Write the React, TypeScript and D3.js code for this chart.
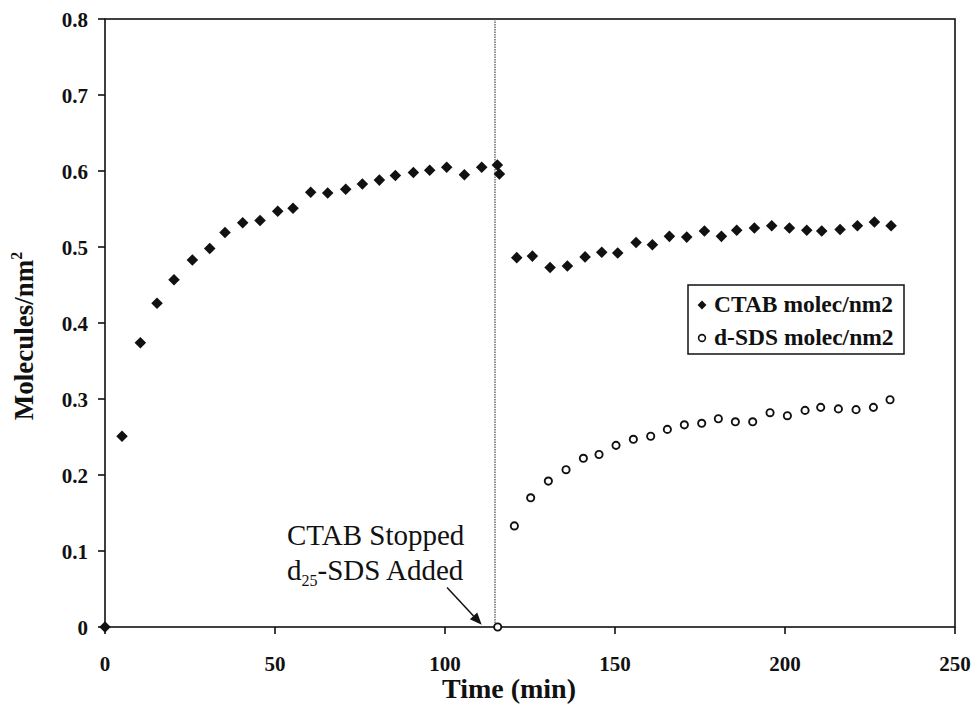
import React from "react";
import * as d3 from "d3";

const ctabTime = [0, 5.0, 10.4, 15.3, 20.3, 25.7, 30.8, 35.3, 40.5, 45.6, 50.8, 55.3, 60.5, 65.5, 70.8, 75.7, 80.7, 85.4, 90.7, 95.5, 100.5, 105.7, 110.8, 115.4, 116.0,
  121.1, 125.7, 130.9, 136.0, 141.2, 146.1, 150.8, 156.2, 161.0, 166.0, 171.1, 176.3, 181.3, 185.8, 191.0, 196.1, 201.3, 206.4, 210.8, 216.2, 221.3, 226.3, 231.2];
const ctabValue = [0, 0.251, 0.374, 0.426, 0.457, 0.483, 0.498, 0.519, 0.532, 0.535, 0.547, 0.551, 0.572, 0.571, 0.576, 0.583, 0.588, 0.594, 0.598, 0.601, 0.605, 0.595, 0.605, 0.608, 0.596,
  0.486, 0.488, 0.473, 0.475, 0.487, 0.493, 0.492, 0.506, 0.503, 0.514, 0.513, 0.521, 0.514, 0.522, 0.525, 0.528, 0.525, 0.522, 0.521, 0.523, 0.528, 0.533, 0.528];

const sdsTime = [115.5, 120.4, 125.2, 130.4, 135.6, 140.7, 145.3, 150.3, 155.4, 160.5, 165.4, 170.4, 175.5, 180.4, 185.4, 190.5, 195.6, 200.7, 205.9, 210.5, 215.7, 220.9, 226.0, 230.9];
const sdsValue = [0, 0.133, 0.170, 0.192, 0.207, 0.222, 0.227, 0.239, 0.247, 0.251, 0.260, 0.266, 0.268, 0.274, 0.270, 0.270, 0.282, 0.278, 0.285, 0.289, 0.287, 0.286, 0.289, 0.299];

const xTicks = [0, 50, 100, 150, 200, 250];
const yTicks = [0, 0.1, 0.2, 0.3, 0.4, 0.5, 0.6, 0.7, 0.8];
const switchTime = 114.7;
const arrowFrom = [100.6, 0.052];
const arrowTo = [110.8, 0.003];
const legendLabels = ["CTAB molec/nm2", "d-SDS molec/nm2"];

const serif = "'Liberation Serif', 'Times New Roman', serif";

export default function App() {
  const left = 105, right = 955, top = 19, bottom = 627;
  const x = d3.scaleLinear().domain([0, 250]).range([left, right]);
  const y = d3.scaleLinear().domain([0, 0.8]).range([bottom, top]);

  const diamond = d3.symbol().type(d3.symbolDiamond2).size(85)();
  const diamondSmall = d3.symbol().type(d3.symbolDiamond2).size(50)();

  const ax = x(arrowFrom[0]), ay = y(arrowFrom[1]);
  const bx = x(arrowTo[0]), by = y(arrowTo[1]);
  const ang = Math.atan2(by - ay, bx - ax);
  const hl = 12, hw = 5;
  const p1 = [bx - hl * Math.cos(ang) + hw * Math.sin(ang), by - hl * Math.sin(ang) - hw * Math.cos(ang)];
  const p2 = [bx - hl * Math.cos(ang) - hw * Math.sin(ang), by - hl * Math.sin(ang) + hw * Math.cos(ang)];

  return (
    <svg width={976} height={704} style={{ position: "absolute", left: 0, top: 0, background: "#fff" }} fontFamily={serif}>
      {/* frame */}
      <rect x={left} y={top} width={right - left} height={bottom - top} fill="none" stroke="#111" strokeWidth={1.6} />
      {/* y ticks */}
      {yTicks.map((t) => (
        <g key={"y" + t}>
          <line x1={left - 7} x2={left} y1={y(t)} y2={y(t)} stroke="#111" strokeWidth={1.6} />
          <text x={88} y={y(t) + 8} textAnchor="end" fontSize={21} fontWeight="bold" fill="#111">
            {t === 0 ? "0" : d3.format(".1f")(t)}
          </text>
        </g>
      ))}
      {/* x ticks */}
      {xTicks.map((t) => (
        <g key={"x" + t}>
          <line x1={x(t)} x2={x(t)} y1={bottom} y2={bottom + 7} stroke="#111" strokeWidth={1.6} />
          <text x={x(t)} y={671} textAnchor="middle" fontSize={21} fontWeight="bold" fill="#111">{t}</text>
        </g>
      ))}
      {/* axis titles */}
      <text x={509} y={698} textAnchor="middle" fontSize={28} fontWeight="bold" fill="#111">Time (min)</text>
      <text transform="translate(33,336) rotate(-90)" textAnchor="middle" fontSize={27} fontWeight="bold" fill="#111">
        Molecules/nm<tspan dy={-11} fontSize={16}>2</tspan>
      </text>
      {/* switch line */}
      <line x1={x(switchTime)} x2={x(switchTime)} y1={top} y2={bottom} stroke="#555" strokeWidth={1.3} strokeDasharray="1.5,1" />
      {/* CTAB points */}
      {ctabTime.map((t, i) => (
        <path key={"c" + i} d={diamond} transform={`translate(${x(t)},${y(ctabValue[i])})`} fill="#111" />
      ))}
      {/* SDS points */}
      {sdsTime.map((t, i) => (
        <circle key={"s" + i} cx={x(t)} cy={y(sdsValue[i])} r={3.6} fill="#fff" stroke="#111" strokeWidth={1.9} />
      ))}
      {/* annotation */}
      <text x={287} y={545} fontSize={29} fill="#111">CTAB Stopped</text>
      <text x={287} y={580} fontSize={29} fill="#111">
        d<tspan dy={6} fontSize={16}>25</tspan><tspan dy={-6}>-SDS Added</tspan>
      </text>
      <line x1={ax} y1={ay} x2={(p1[0] + p2[0]) / 2} y2={(p1[1] + p2[1]) / 2} stroke="#111" strokeWidth={1.5} />
      <path d={`M${bx},${by}L${p1[0]},${p1[1]}L${p2[0]},${p2[1]}Z`} fill="#111" />
      {/* legend */}
      <g>
        <rect x={688} y={285} width={216} height={69} fill="#fff" stroke="#111" strokeWidth={1.5} />
        <path d={diamondSmall} transform="translate(702,305)" fill="#111" />
        <text x={714} y={312} fontSize={23.5} fontWeight="bold" fill="#111">{legendLabels[0]}</text>
        <circle cx={702} cy={338} r={3.4} fill="#fff" stroke="#111" strokeWidth={1.6} />
        <text x={714} y={345} fontSize={23.5} fontWeight="bold" fill="#111">{legendLabels[1]}</text>
      </g>
    </svg>
  );
}
